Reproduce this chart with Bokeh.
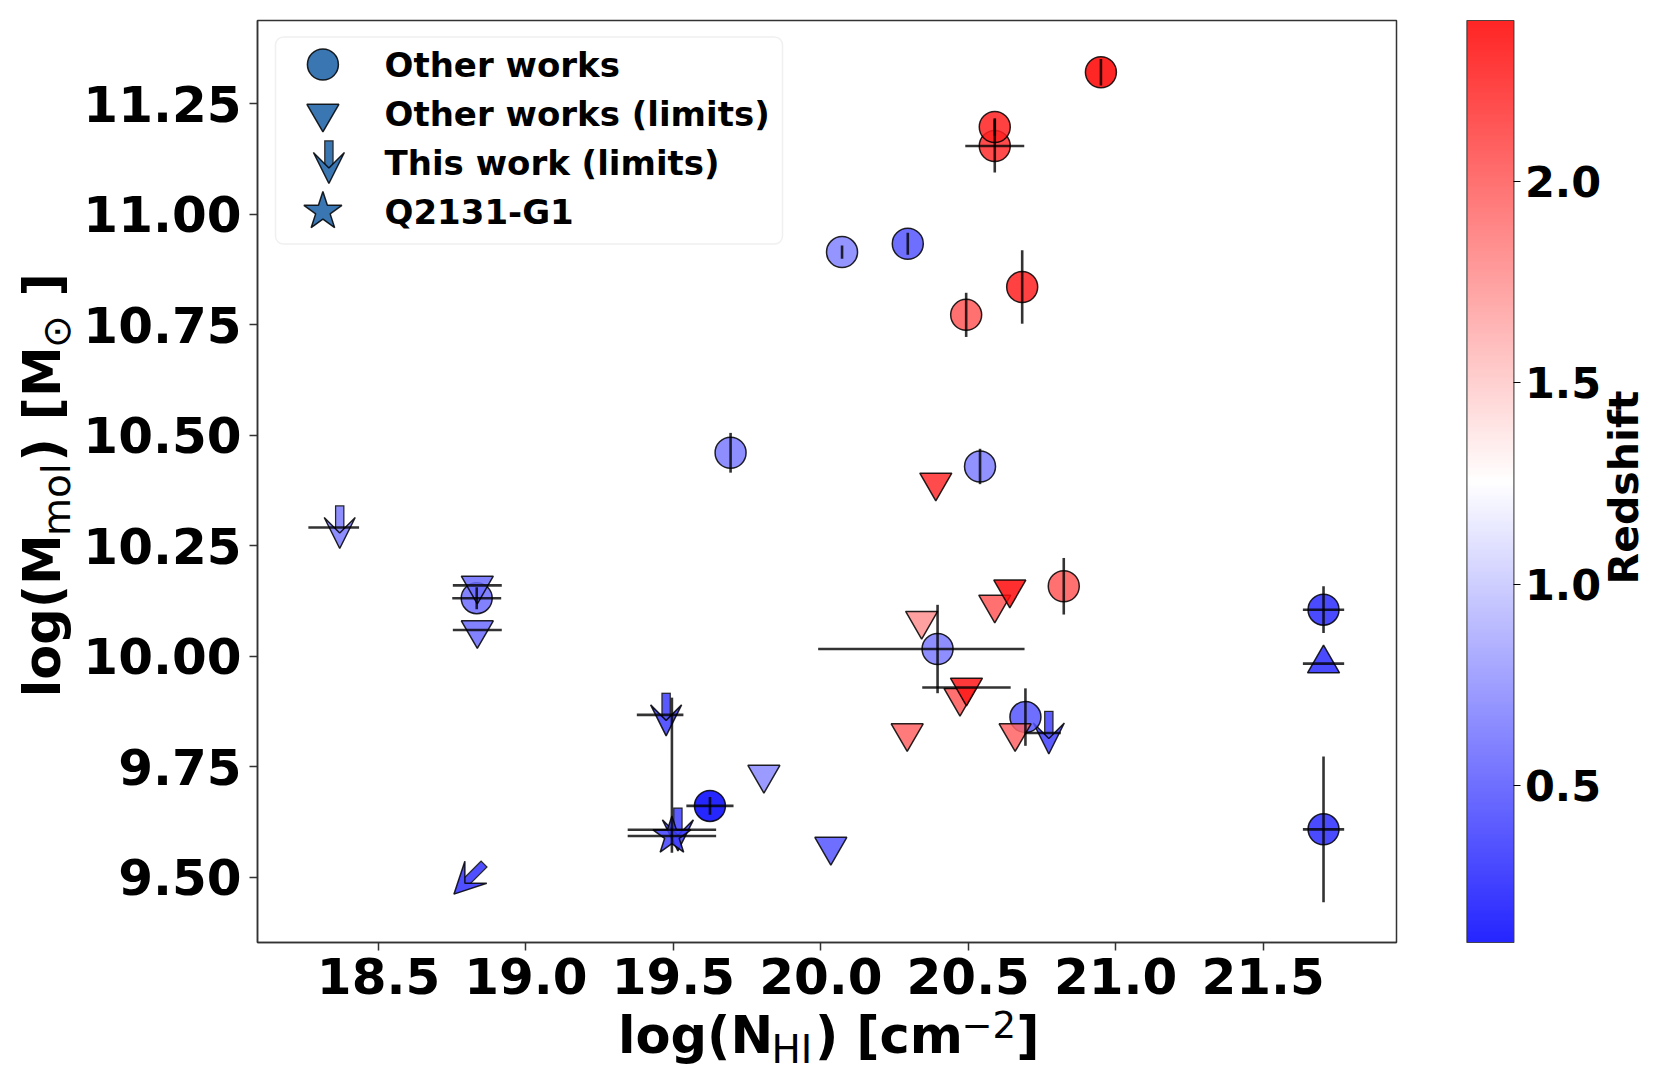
import math
from bokeh.plotting import figure
from bokeh.models import (ColumnDataSource, LinearColorMapper, ColorBar, FixedTicker,
                          Label, Arrow, VeeHead, BoxAnnotation, Range1d)
from bokeh.transform import transform
from bokeh.embed import file_html
from bokeh.resources import INLINE

# ---------------- data ----------------
# "Other works" detections (circles)
circ_nhi  = [20.950, 20.590, 20.590, 20.072, 20.295, 20.493, 20.683, 19.694, 20.540, 18.833,
             20.396, 20.694, 19.624, 21.705, 21.705, 20.824]
circ_mmol = [11.321, 11.154, 11.197, 10.914, 10.933, 10.772, 10.835, 10.460, 10.429, 10.131,
             10.016, 9.862, 9.661, 10.105, 9.608, 10.158]
circ_z    = [2.40, 2.20, 2.25, 0.70, 0.50, 2.00, 2.25, 0.66, 0.68, 0.60,
             0.66, 0.50, 0.11, 0.30, 0.30, 2.00]
circ_xlo  = [0, 0.10, 0, 0, 0, 0, 0, 0, 0, 0.083, 0.405, 0, 0.08, 0.07, 0.07, 0]
circ_xhi  = [0, 0.10, 0, 0, 0, 0, 0, 0, 0, 0.083, 0.295, 0, 0.08, 0.07, 0.07, 0]
circ_yerr = [0.03, 0.06, 0.02, 0.015, 0.025, 0.05, 0.083, 0.045, 0.04, 0.025,
             0.10, 0.065, 0.02, 0.053, 0.165, 0.064]

# "Other works (limits)" (downward triangles)
tri_nhi  = [18.835, 18.835, 19.807, 20.034, 20.390, 20.342, 20.590, 20.641, 20.293, 20.472, 20.494, 20.659]
tri_mmol = [10.160, 10.059, 9.732, 9.569, 10.393, 10.080, 10.117, 10.151, 9.826, 9.906, 9.929, 9.826]
tri_z    = [0.60, 0.60, 0.72, 0.50, 2.20, 1.75, 2.00, 2.35, 1.95, 2.00, 2.30, 1.95]
tri_xerr = [0.083, 0.083, 0, 0, 0, 0, 0, 0, 0, 0, 0.15, 0]

# lower limit (upward triangle)
up_nhi  = [21.705]
up_mmol = [9.983]
up_z    = [0.30]
up_xerr = [0.07]

# "This work (limits)" (arrows)
arr_nhi  = [18.348, 19.455, 19.495, 20.753, 18.806]
arr_mmol = [10.291, 9.867, 9.607, 9.826, 9.495]
arr_z    = [0.66, 0.38, 0.40, 0.40, 0.33]
arr_xerr = [0.086, 0.079, 0.15, 0.061, 0.0]
arr_dir  = ["down", "down", "down", "down", "downleft"]

# Q2131-G1 (star)
star_nhi  = [19.495]
star_mmol = [9.593]
star_z    = [0.40]
star_xerr = [0.15]
star_ylo  = [0.038]
star_yhi  = [0.313]

x_ticks = [18.5, 19.0, 19.5, 20.0, 20.5, 21.0, 21.5]
x_tick_labels = ["18.5", "19.0", "19.5", "20.0", "20.5", "21.0", "21.5"]
y_ticks = [9.5, 9.75, 10.0, 10.25, 10.5, 10.75, 11.0, 11.25]
y_tick_labels = ["9.50", "9.75", "10.00", "10.25", "10.50", "10.75", "11.00", "11.25"]
cbar_ticks = [0.5, 1.0, 1.5, 2.0]
cbar_tick_labels = ["0.5", "1.0", "1.5", "2.0"]

legend_labels = ["Other works", "Other works (limits)", "This work (limits)", "Q2131-G1"]
legend_markers = ["circle", "inverted_triangle", "arrow", "star"]

# ---------------- layout / style ----------------
XMIN, XMAX = 18.0895, 21.9525
YMIN, YMAX = 9.352, 11.438
FRAME_W, FRAME_H = 1139, 922
LEFT, TOP, RIGHT, BOTTOM = 257, 20, 268, 134
KX = FRAME_W / (XMAX - XMIN)      # px per data unit
KY = FRAME_H / (YMAX - YMIN)
FONT = "DejaVu Sans"
ALPHA = 0.85
EDGE = "black"

def bwr(n=256):
    out = []
    for i in range(n):
        t = i / (n - 1)
        if t < 0.5:
            r = g = 2 * t
            b = 1.0
        else:
            r = 1.0
            g = b = 2 * (1 - t)
        out.append("#%02x%02x%02x" % (round(r * 255), round(g * 255), round(b * 255)))
    return out

PALETTE = bwr()
all_z = circ_z + tri_z + up_z + arr_z + star_z
ZLO, ZHI = min(all_z), max(all_z)
mapper = LinearColorMapper(palette=PALETTE, low=ZLO, high=ZHI)

def z_color(z, alpha=ALPHA):
    t = (z - ZLO) / (ZHI - ZLO)
    idx = max(0, min(len(PALETTE) - 1, int(t * len(PALETTE))))
    h = PALETTE[idx]
    rgb = [int(h[i:i + 2], 16) for i in (1, 3, 5)]
    rgb = [round(alpha * c + (1 - alpha) * 255) for c in rgb]
    return "#%02x%02x%02x" % tuple(rgb)

p = figure(frame_width=FRAME_W, frame_height=FRAME_H,
           x_range=Range1d(XMIN, XMAX), y_range=Range1d(YMIN, YMAX),
           output_backend="svg", toolbar_location=None,
           min_border_left=LEFT, min_border_top=TOP,
           min_border_right=RIGHT, min_border_bottom=BOTTOM)
p.background_fill_color = "white"
p.border_fill_color = "white"
p.grid.visible = False
p.outline_line_color = "#333333"
p.outline_line_width = 1.5

for ax, ticks, labels in ((p.xaxis, x_ticks, x_tick_labels), (p.yaxis, y_ticks, y_tick_labels)):
    ax.ticker = FixedTicker(ticks=ticks)
    ax.major_label_overrides = {t: l for t, l in zip(ticks, labels)}
    ax.major_label_text_font = FONT
    ax.major_label_text_font_style = "bold"
    ax.major_label_text_font_size = "50px"
    ax.major_label_text_color = "black"
    ax.major_tick_out = 8
    ax.major_tick_in = 0
    ax.major_tick_line_width = 1.5
    ax.major_tick_line_color = "#333333"
    ax.minor_tick_line_color = None
    ax.axis_line_color = "#333333"
    ax.axis_line_width = 1.5
p.xaxis.major_label_standoff = 7
p.yaxis.major_label_standoff = 8

# ---------------- arrows (This work, limits) ----------------
ARROW_HALF = 21      # px, half length of arrow marker
ARROW_DX = 6         # px, the arrow marker sits a little right of its point
HEAD = 31            # px

def draw_arrow(cx, cy, ux, uy, color, units="data", level="underlay"):
    """cx, cy: centre; (ux, uy): unit direction in screen px (y up)."""
    if units == "data":
        sx, sy = 1.0 / KX, 1.0 / KY
    else:
        sx = sy = 1.0
    tail = (cx - ux * (ARROW_HALF + 1.2) * sx, cy - uy * (ARROW_HALF + 1.2) * sy)
    tail_in = (cx - ux * ARROW_HALF * sx, cy - uy * ARROW_HALF * sy)
    tip = (cx + ux * ARROW_HALF * sx, cy + uy * ARROW_HALF * sy)
    neck = (tip[0] - ux * HEAD * 0.5 * sx, tip[1] - uy * HEAD * 0.5 * sy)
    kw = dict(start_units=units, end_units=units, level=level)
    p.add_layout(Arrow(end=None, x_start=tail[0], y_start=tail[1], x_end=neck[0], y_end=neck[1],
                       line_color="black", line_width=9.5, line_alpha=0.85, **kw))
    p.add_layout(Arrow(end=None, x_start=tail_in[0], y_start=tail_in[1], x_end=neck[0], y_end=neck[1],
                       line_color=color, line_width=7, **kw))
    p.add_layout(Arrow(end=VeeHead(size=HEAD, fill_color=color, fill_alpha=1.0,
                                   line_color="black", line_width=1.5, line_alpha=0.85),
                       x_start=tail[0], y_start=tail[1], x_end=tip[0], y_end=tip[1],
                       line_alpha=0.0, **kw))

for x, y, z, d in zip(arr_nhi, arr_mmol, arr_z, arr_dir):
    if d == "down":
        draw_arrow(x + ARROW_DX / KX, y, 0.0, -1.0, z_color(z))
    else:
        draw_arrow(x, y, -math.sqrt(0.5), -math.sqrt(0.5), z_color(z))

# ---------------- markers ----------------
mk = dict(line_color=EDGE, line_width=1.5, fill_alpha=ALPHA, line_alpha=ALPHA)
src_c = ColumnDataSource(dict(x=circ_nhi, y=circ_mmol, z=circ_z))
src_t = ColumnDataSource(dict(x=tri_nhi, y=tri_mmol, z=tri_z))
src_u = ColumnDataSource(dict(x=up_nhi, y=up_mmol, z=up_z))
src_s = ColumnDataSource(dict(x=star_nhi, y=star_mmol, z=star_z))
SIZES = {"circle": 31, "inverted_triangle": 32, "triangle": 32, "star": 40}
p.scatter("x", "y", source=src_c, marker="circle", size=SIZES["circle"], fill_color=transform("z", mapper), **mk)
p.scatter("x", "y", source=src_t, marker="inverted_triangle", size=SIZES["inverted_triangle"],
          fill_color=transform("z", mapper), **mk)
p.scatter("x", "y", source=src_u, marker="triangle", size=SIZES["triangle"], fill_color=transform("z", mapper), **mk)
p.scatter("x", "y", source=src_s, marker="star", size=SIZES["star"], fill_color=transform("z", mapper), **mk)

# ---------------- error bars ----------------
ex0, ey0, ex1, ey1 = [], [], [], []
def add_err(xs, ys, xlo, xhi, ylo, yhi):
    for x, y, a, b, c, d in zip(xs, ys, xlo, xhi, ylo, yhi):
        if a or b:
            ex0.append(x - a); ey0.append(y); ex1.append(x + b); ey1.append(y)
        if c or d:
            ex0.append(x); ey0.append(y - c); ex1.append(x); ey1.append(y + d)

zeros = lambda n: [0] * n
add_err(circ_nhi, circ_mmol, circ_xlo, circ_xhi, circ_yerr, circ_yerr)
add_err(tri_nhi, tri_mmol, tri_xerr, tri_xerr, zeros(len(tri_nhi)), zeros(len(tri_nhi)))
add_err(up_nhi, up_mmol, up_xerr, up_xerr, zeros(1), zeros(1))
add_err(arr_nhi, arr_mmol, arr_xerr, arr_xerr, zeros(len(arr_nhi)), zeros(len(arr_nhi)))
add_err(star_nhi, star_mmol, star_xerr, star_xerr, star_ylo, star_yhi)
err_src = ColumnDataSource(dict(x0=ex0, y0=ey0, x1=ex1, y1=ey1))
p.segment("x0", "y0", "x1", "y1", source=err_src, line_color="black", line_alpha=0.8, line_width=2.6)

# ---------------- legend (drawn by hand, inside the frame) ----------------
LEG_COLOR = "#3a76b2"
LEG_BOX = dict(left=18, right=525, top=16.5, bottom=223.5)     # px from frame top-left
LEG_ROW0, LEG_PITCH = 44, 49
LEG_ICON_X, LEG_TEXT_X = 65.4, 127

box_kw = {}
if "border_radius" in BoxAnnotation.properties():
    box_kw["border_radius"] = 8
p.add_layout(BoxAnnotation(left=LEG_BOX["left"], right=LEG_BOX["right"],
                           top=FRAME_H - LEG_BOX["top"], bottom=FRAME_H - LEG_BOX["bottom"],
                           left_units="screen", right_units="screen", top_units="screen", bottom_units="screen",
                           fill_color="white", fill_alpha=0.8, line_color="#cccccc", line_width=1.5,
                           level="underlay", **box_kw))

for i, (lab, m) in enumerate(zip(legend_labels, legend_markers)):
    ry = FRAME_H - (LEG_ROW0 + i * LEG_PITCH)          # px from frame bottom
    if m == "arrow":
        draw_arrow(LEG_ICON_X + ARROW_DX, ry, 0.0, -1.0, LEG_COLOR, units="screen", level="overlay")
    else:
        icon = ColumnDataSource(dict(x=[XMIN + LEG_ICON_X / KX], y=[YMIN + ry / KY]))
        p.scatter("x", "y", source=icon, marker=m, size=SIZES[m], fill_color=LEG_COLOR,
                  line_color=EDGE, line_width=1.5, line_alpha=ALPHA)
    p.add_layout(Label(x=LEG_TEXT_X, y=ry, x_units="screen", y_units="screen", text=lab,
                       text_font=FONT, text_font_size="34px", text_font_style="bold",
                       text_align="left", text_baseline="middle", text_color="black"))

# ---------------- colour bar ----------------
cbar = ColorBar(color_mapper=mapper, location=(1209.4, 0), width=47, height=FRAME_H,
                padding=0, margin=0, scale_alpha=ALPHA,
                ticker=FixedTicker(ticks=cbar_ticks),
                major_label_overrides={t: l for t, l in zip(cbar_ticks, cbar_tick_labels)},
                major_label_text_font=FONT, major_label_text_font_style="bold",
                major_label_text_font_size="43px", major_label_text_color="black",
                major_tick_line_color="black", major_tick_out=7, major_tick_in=0,
                minor_tick_line_color=None, label_standoff=4,
                bar_line_color="#333333", bar_line_width=1.2,
                border_line_color=None, background_fill_alpha=0)
p.add_layout(cbar)

# ---------------- texts outside the frame (side panel, positioned through the scales) ----------------
DROP = 0.385     # the renderer puts the alphabetic baseline this many em lower than asked

def put(text, fx, fy, size, bold=True, vertical=False, align="left"):
    """fx, fy: baseline position in px from the frame's bottom-left corner (y up)."""
    if vertical:
        fx -= DROP * size
    else:
        fy += DROP * size
    p.add_layout(Label(x=XMIN + fx / KX, y=YMIN + fy / KY, x_units="data", y_units="data",
                       text=text, angle=math.pi / 2 if vertical else 0.0,
                       text_font=FONT, text_font_size=f"{size}px",
                       text_font_style="bold" if bold else "normal",
                       text_align=align, text_baseline="alphabetic", text_color="black"), "below")

put("Redshift", 1382, 455, 41, vertical=True, align="center")

BOLD = {'l': .343, 'o': .687, 'g': .716, '(': .457, ')': .457, 'N': .837, 'M': .995, ' ': .348,
        '[': .457, ']': .457, 'c': .593, 'm': 1.042}
REG = {'H': .752, 'I': .295, 'm': .974, 'o': .612, 'l': .278, '\u2212': .838, '2': .636, '\u2299': .838}

def width(text, size, bold):
    tab = BOLD if bold else REG
    return 0.97 * sum(tab.get(ch, 0.6) for ch in text) * size

# (text, font px, bold, baseline shift px, gap after px)
xlab = [("log(N", 51, True, 0, 3), ("HI", 39, False, -10, 4), (") [cm", 51, True, 0, 3),
        ("\u22122", 37, False, 16, 2), ("]", 51, True, 0, 0)]
tot = sum(width(t, s, b) + g for t, s, b, _, g in xlab)
pos = 571 - tot / 2
for t, s, b, off, g in xlab:
    put(t, pos, -112.5 + off, s, bold=b)
    pos += width(t, s, b) + g

ylab = [("log(M", 51, True, 0, 3), ("mol", 39, False, 10, 4), (") [M", 51, True, 0, 2),
        ("\u2299", 39, False, 10, 2 + 0.348 * 51), ("]", 51, True, 0, 0)]
tot = sum(width(t, s, b) + g for t, s, b, _, g in ylab)
pos = 457 - tot / 2
for t, s, b, off, g in ylab:
    put(t, -195.6 + off, pos, s, bold=b, vertical=True)
    pos += width(t, s, b) + g

open("out.html", "w").write(file_html(p, INLINE))
